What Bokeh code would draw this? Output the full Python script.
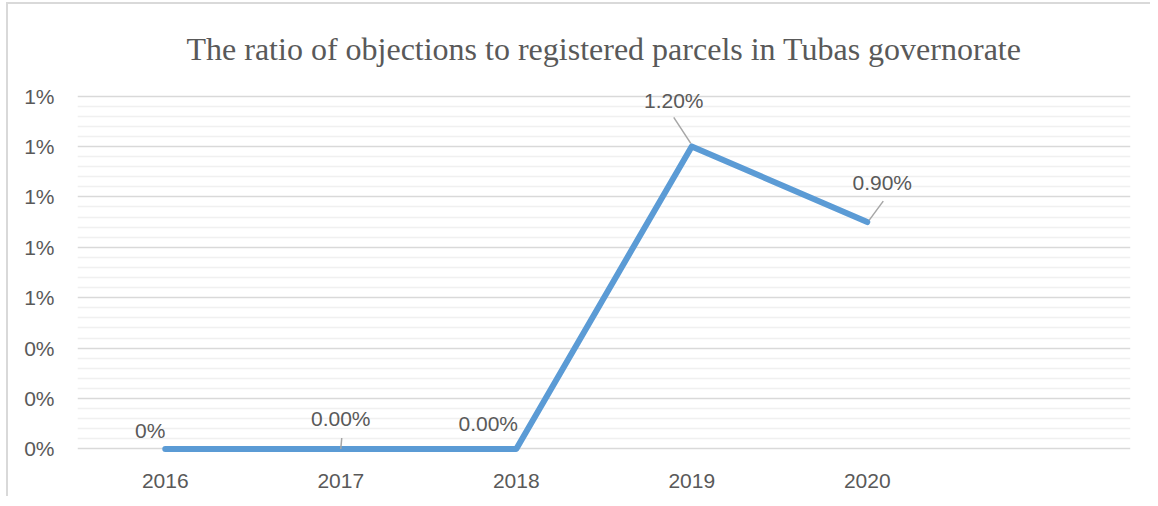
from bokeh.plotting import figure
from bokeh.models import Range1d, FixedTicker, ColumnDataSource
from bokeh.core.properties import value
from bokeh.embed import file_html
from bokeh.resources import INLINE

# ---- data ----
years = ["2016", "2017", "2018", "2019", "2020"]
ratio_pct = [0.0, 0.0, 0.0, 1.2, 0.9]
point_labels = ["0%", "0.00%", "0.00%", "1.20%", "0.90%"]
y_ticks = [0.0, 0.2, 0.4, 0.6, 0.8, 1.0, 1.2, 1.4]
y_tick_labels = ["0%", "0%", "0%", "1%", "1%", "1%", "1%", "1%"]
n_slots = 6  # category slots on the x axis (last one empty)

# ---- layout constants ----
W, H = 1144, 494
left, frame_w = 69, 1053
top, frame_h = 88, 360
y_lo, y_hi = -0.014, 1.414
px_x = frame_w / n_slots
px_y = frame_h / (y_hi - y_lo)

TXT = "#595959"

p = figure(width=W, height=H, output_backend="svg", toolbar_location=None,
           x_range=Range1d(0, n_slots), y_range=Range1d(y_lo, y_hi),
           min_border_left=left, min_border_right=W - left - frame_w,
           min_border_top=top, min_border_bottom=H - top - frame_h,
           title="The ratio of objections to registered parcels in Tubas governorate")
p.styles = {"border-left": "2px solid #d9d9d9", "border-top": "2px solid #d9d9d9",
            "margin-left": "6px", "margin-top": "2px"}
p.outline_line_color = None
p.background_fill_color = "white"
p.border_fill_color = "white"

p.title.align = "center"
p.title.vertical_align = "top"
p.title.text_font = "Liberation Serif"
p.title.text_font_size = "32px"
p.title.text_font_style = "normal"
p.title.text_color = TXT
p.title.standoff = 48

xs = [i + 0.5 for i in range(len(years))]

# axes
p.xaxis.ticker = FixedTicker(ticks=xs)
p.xaxis.major_label_overrides = {x: y for x, y in zip(xs, years)}
minor = []
for a, b in zip(y_ticks[:-1], y_ticks[1:]):
    for k in range(1, 5):
        minor.append(a + (b - a) * k / 5)
p.yaxis.ticker = FixedTicker(ticks=y_ticks, minor_ticks=minor)
p.yaxis.major_label_overrides = {t: l for t, l in zip(y_ticks, y_tick_labels)}
for ax in (p.xaxis[0], p.yaxis[0]):
    ax.axis_line_color = None
    ax.major_tick_line_color = None
    ax.minor_tick_line_color = None
    ax.major_label_text_font = "Liberation Sans"
    ax.major_label_text_font_size = "21px"
    ax.major_label_text_color = TXT
p.yaxis.major_label_standoff = 17
p.xaxis.major_label_standoff = 15

p.xgrid.grid_line_color = None
p.ygrid.ticker = p.yaxis.ticker
p.ygrid.grid_line_color = "#d9d9d9"
p.ygrid.grid_line_width = 1.5
p.ygrid.minor_grid_line_color = "#f0f0f0"
p.ygrid.minor_grid_line_width = 1.5

# line
src = ColumnDataSource(dict(x=xs, y=ratio_pct, lab=point_labels,
                            dx=[-15, 0, -28, -18, 15],
                            dy=[-18, -30, -25.5, -46, -40]))
p.line("x", "y", source=src, line_color="#5b9bd5", line_width=6,
       line_join="round", line_cap="round")

# leader lines (pixel offsets converted to data units)
lead_idx = [1, 3, 4]
lead_from = [(0, 0), (-1, 3), (2, 2)]
lead_to = [(1, 11), (-18, 29), (16, 21)]
p.segment(x0=[xs[i] + f[0] / px_x for i, f in zip(lead_idx, lead_from)],
          y0=[ratio_pct[i] + f[1] / px_y for i, f in zip(lead_idx, lead_from)],
          x1=[xs[i] + t[0] / px_x for i, t in zip(lead_idx, lead_to)],
          y1=[ratio_pct[i] + t[1] / px_y for i, t in zip(lead_idx, lead_to)],
          line_color="#a6a6a6", line_width=1.5)

p.text("x", "y", text="lab", source=src, x_offset="dx", y_offset="dy",
       text_align="center", text_baseline="middle",
       text_font=value("Liberation Sans"), text_font_size="21px", text_color=TXT)

open("out.html", "w").write(file_html(p, INLINE))
